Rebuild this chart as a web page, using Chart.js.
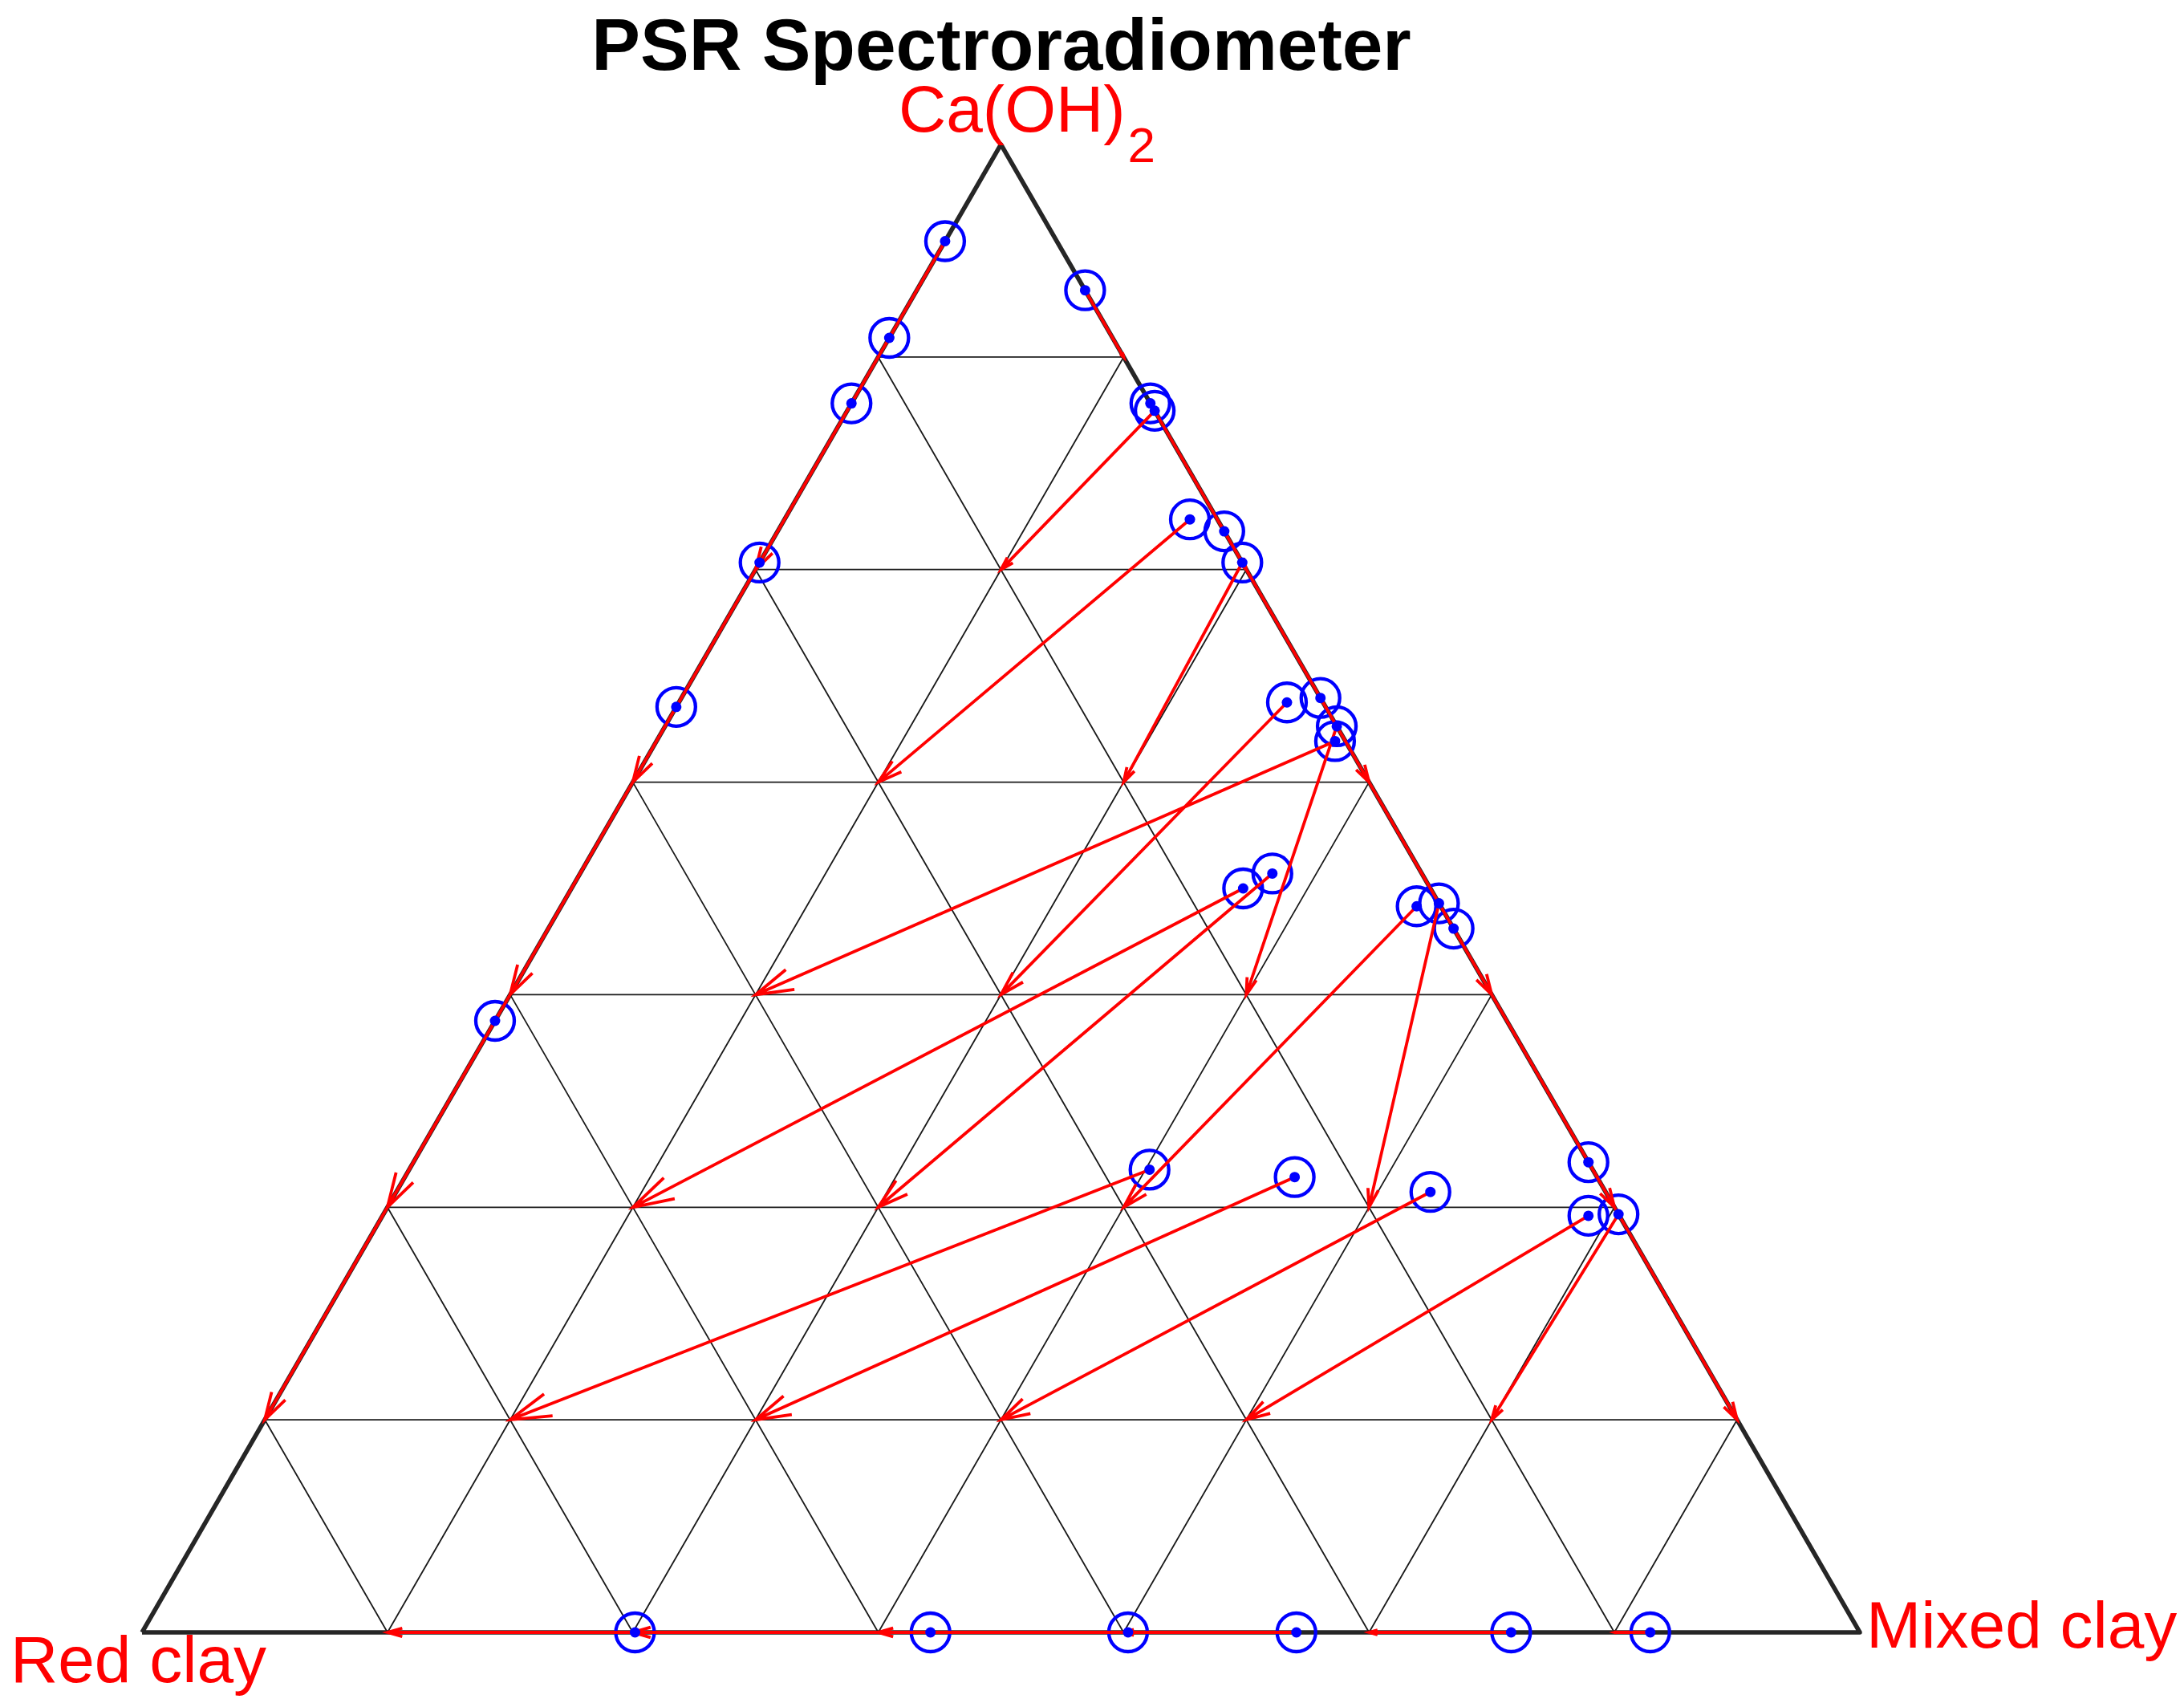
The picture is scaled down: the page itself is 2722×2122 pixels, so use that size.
<!DOCTYPE html>
<html>
<head>
<meta charset="utf-8">
<title>PSR Spectroradiometer</title>
<script src="https://cdn.jsdelivr.net/npm/chart.js@4.4.1/dist/chart.umd.min.js"></script>
<style>
  html, body { margin: 0; padding: 0; background: #fff; }
  #wrap { width: 2722px; height: 2122px; }
</style>
</head>
<body>
<div id="wrap"><canvas id="ternary" width="2722" height="2122"></canvas></div>
<script>
// measured compositions (%) : Ca(OH)2 / Red clay / Mixed clay
const caFrom  = [93.5, 87.0, 82.6, 71.9, 62.2, 41.1,
                 90.2, 82.6, 82.1, 74.0, 71.9, 62.8, 60.9, 49.0, 47.3, 31.6, 28.1,
                 74.8, 62.5, 59.9, 48.8, 50.0, 51.0, 31.1, 30.6, 29.6, 28.0,
                 0, 0, 0, 0, 0, 0];
const redFrom = [6.5, 13.0, 17.4, 28.1, 37.8, 58.9,
                 0, 0, 0, 0, 0, 0, 0, 0, 0, 0, 0,
                 1.6, 2.1, 0.6, 1.4, 10.9, 8.7, 25.8, 17.6, 10.2, 1.8,
                 71.3, 54.1, 42.6, 32.8, 20.3, 12.2];
const mixFrom = [0, 0, 0, 0, 0, 0,
                 9.8, 17.4, 17.9, 26.0, 28.1, 37.2, 39.1, 51.0, 52.7, 68.4, 71.9,
                 23.6, 35.4, 39.5, 49.8, 39.1, 40.3, 43.1, 51.8, 60.2, 70.2,
                 28.7, 45.9, 57.4, 67.2, 79.7, 87.8];

// predicted compositions (%) the arrows point to
const caTo  = [71.43, 71.43, 57.14, 42.86, 28.57, 14.29,
               85.71, 71.43, 71.43, 57.14, 57.14, 42.86, 42.86, 28.57, 28.57, 14.29, 14.29,
               57.14, 42.86, 42.86, 28.57, 28.57, 28.57, 14.29, 14.29, 14.29, 14.29,
               0, 0, 0, 0, 0, 0];
const redTo = [28.57, 28.57, 42.86, 57.14, 71.43, 85.71,
               0, 0, 14.29, 0, 14.29, 0, 14.29, 14.29, 0, 0, 14.29,
               28.57, 28.57, 42.86, 28.57, 57.14, 42.86, 71.43, 57.14, 42.86, 28.57,
               85.71, 71.43, 57.14, 42.86, 28.57, 14.29];
const mixTo = [0, 0, 0, 0, 0, 0,
               14.29, 28.57, 14.29, 42.86, 28.57, 57.14, 42.86, 57.14, 71.43, 85.71, 71.43,
               14.29, 28.57, 14.29, 42.86, 14.29, 28.57, 14.29, 28.57, 42.86, 57.14,
               14.29, 28.57, 42.86, 57.14, 71.43, 85.71];

const gridLevels = [14.29, 28.57, 42.86, 57.14, 71.43, 85.71];
const cornerLabels = ['Red clay', 'Mixed clay'];

const H = Math.sqrt(3) / 2;

function toXY(ca, red, mix) {
  const s = ca + red + mix;
  return { x: (mix + ca / 2) / s, y: (ca / s) * H };
}

// grid: lines of constant Ca(OH)2, Red clay and Mixed clay
const gridData = [];
gridLevels.forEach(g => {
  const r = 100 - g;
  gridData.push(toXY(g, r, 0), toXY(g, 0, r), { x: 0, y: null });
  gridData.push(toXY(0, r, g), toXY(r, 0, g), { x: 0, y: null });
  gridData.push(toXY(0, g, r), toXY(r, g, 0), { x: 0, y: null });
});

const frameData = [toXY(0, 100, 0), toXY(0, 0, 100), toXY(100, 0, 0), toXY(0, 100, 0)];

const startPts = caFrom.map((c, i) => toXY(c, redFrom[i], mixFrom[i]));
const endPts = caTo.map((c, i) => toXY(c, redTo[i], mixTo[i]));

// shafts plus open arrow heads, one broken polyline
const arrowData = [];
const headFrac = 0.062, headAng = 16 * Math.PI / 180;
startPts.forEach((p, i) => {
  const q = endPts[i];
  const dx = q.x - p.x, dy = q.y - p.y;
  const len = Math.hypot(dx, dy);
  const th = Math.atan2(dy, dx) + Math.PI;
  const hl = len * headFrac;
  arrowData.push(p, q, { x: 0, y: null });
  arrowData.push(
    { x: q.x + hl * Math.cos(th + headAng), y: q.y + hl * Math.sin(th + headAng) },
    q,
    { x: q.x + hl * Math.cos(th - headAng), y: q.y + hl * Math.sin(th - headAng) },
    { x: 0, y: null });
});

const labelPlugin = {
  id: 'ternaryLabels',
  afterDraw(chart) {
    const ctx = chart.ctx;
    ctx.save();
    ctx.textBaseline = 'alphabetic';
    ctx.fillStyle = '#000';
    ctx.font = 'bold 91px "Liberation Sans", Arial, sans-serif';
    ctx.textAlign = 'center';
    ctx.fillText('PSR Spectroradiometer', 1248, 87);

    ctx.fillStyle = '#ff0000';
    ctx.textAlign = 'left';
    ctx.font = '82px "Liberation Sans", Arial, sans-serif';
    ctx.fillText('Ca(OH)', 1120, 164);
    const w = ctx.measureText('Ca(OH)').width;
    ctx.font = '62px "Liberation Sans", Arial, sans-serif';
    ctx.fillText('2', 1120 + w + 3, 202);

    ctx.font = '82px "Liberation Sans", Arial, sans-serif';
    ctx.fillText(cornerLabels[0], 13, 2096);
    ctx.fillText(cornerLabels[1], 2326, 2053);
    ctx.restore();
  }
};

new Chart(document.getElementById('ternary'), {
  type: 'scatter',
  data: {
    datasets: [
      {
        data: startPts,
        pointRadius: 6.5,
        pointBackgroundColor: '#0000ff',
        pointBorderWidth: 0,
        showLine: false,
        clip: false,
        order: 0
      },
      {
        data: arrowData,
        showLine: true,
        spanGaps: false,
        borderColor: '#ff0000',
        borderWidth: 3.8,
        pointRadius: 0,
        clip: false,
        order: 1
      },
      {
        data: startPts,
        pointRadius: 24,
        pointBorderColor: '#0000ff',
        pointBackgroundColor: 'rgba(0,0,0,0)',
        pointBorderWidth: 4.3,
        showLine: false,
        clip: false,
        order: 2
      },
      {
        data: frameData,
        showLine: true,
        borderColor: '#262626',
        borderWidth: 5.5,
        borderJoinStyle: 'round',
        pointRadius: 0,
        clip: false,
        order: 3
      },
      {
        data: gridData,
        showLine: true,
        spanGaps: false,
        borderColor: '#1a1a1a',
        borderWidth: 1.8,
        pointRadius: 0,
        clip: false,
        order: 4
      }
    ]
  },
  options: {
    responsive: false,
    animation: false,
    events: [],
    layout: { padding: { left: 177, right: 404, top: 180, bottom: 88 } },
    plugins: {
      legend: { display: false },
      tooltip: { enabled: false },
      title: { display: false }
    },
    scales: {
      x: { type: 'linear', min: 0, max: 1, display: false },
      y: { type: 'linear', min: 0, max: H, display: false }
    }
  },
  plugins: [labelPlugin]
});
</script>
</body>
</html>
